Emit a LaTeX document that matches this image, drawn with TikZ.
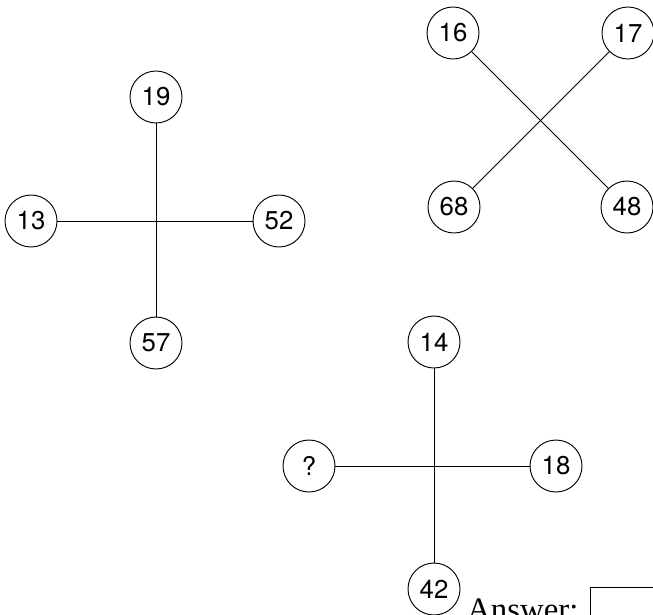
\documentclass[tikz,border=0pt]{standalone}
\usepackage{fontspec}
\setmainfont{Liberation Serif}
\newfontfamily\numfont{TeX Gyre Heros}

\begin{document}
\begin{tikzpicture}[x=0.03cm,y=-0.03cm,
  num/.style={draw,circle,line width=0.8pt,minimum size=1.56cm,
              inner sep=0pt,font=\numfont\fontsize{22}{22}\selectfont},
  link/.style={line width=0.8pt}]
  \useasboundingbox (0,0) rectangle (653,614);
  \clip (0,0) rectangle (653,614);
  % left cross
  \node[num] (L19) at (156,97)  {19};
  \node[num] (L13) at (31,221)  {13};
  \node[num] (L52) at (279,221) {52};
  \node[num] (L57) at (156,343) {57};
  \draw[link] (L19) -- (L57);
  \draw[link] (L13) -- (L52);
  % diagonal cross
  \node[num] (R16) at (453,33)  {16};
  \node[num] (R17) at (628,33)  {17};
  \node[num] (R68) at (454,207) {68};
  \node[num] (R48) at (627,207) {48};
  \draw[link] (R16) -- (R48);
  \draw[link] (R17) -- (R68);
  % bottom cross
  \node[num] (B14) at (434,342) {14};
  \node[num] (Bq)  at (309,466) {?};
  \node[num] (B18) at (556,466) {18};
  \node[num] (B42) at (434,589) {42};
  \draw[link] (B14) -- (B42);
  \draw[link] (Bq) -- (B18);
  % answer
  \node[anchor=base west,inner sep=0pt,font=\fontsize{28}{29}\selectfont]
    (ans) at (467,620) {Answer:};
  \draw[link] (590,640) rectangle (700,587);
\end{tikzpicture}
\end{document}
